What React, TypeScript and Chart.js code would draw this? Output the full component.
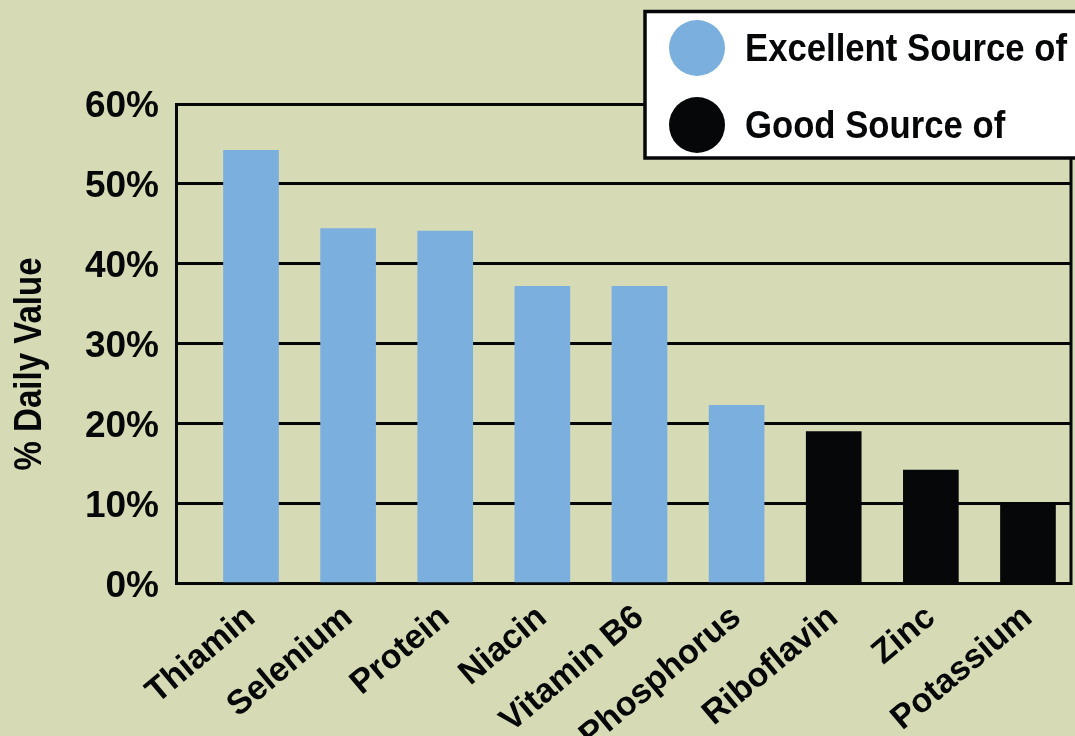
import React, { useEffect, useRef } from "react";
import { Chart, registerables } from "chart.js";

Chart.register(...registerables);

const categories = ["Thiamin", "Selenium", "Protein", "Niacin", "Vitamin B6", "Phosphorus", "Riboflavin", "Zinc", "Potassium"];
const excellentValues = [54.2, 44.4, 44.1, 37.2, 37.2, 22.3, null, null, null];
const goodValues = [null, null, null, null, null, null, 19.0, 14.2, 10.0];
const seriesNames = ["Excellent Source of", "Good Source of"];
const yTicks = [0, 10, 20, 30, 40, 50, 60];
const yTitle = "% Daily Value";

const BG = "#d6dbb6";
const BLUE = "#7aafde";
const BLACK = "#060709";
const FAMILY = "'Liberation Sans', Arial, sans-serif";

function drawSqueezed(ctx: any, text: string, x: number, y: number, font: string, targetWidth: number, align: "left" | "center") {
  ctx.save();
  ctx.font = font;
  const w = ctx.measureText(text).width;
  const s = Math.min(1, targetWidth / w);
  ctx.translate(x, y);
  ctx.scale(s, 1);
  ctx.textAlign = align;
  ctx.textBaseline = "middle";
  ctx.fillText(text, 0, 0);
  ctx.restore();
}

export default function App() {
  const ref = useRef<HTMLCanvasElement>(null);
  useEffect(() => {
    if (!ref.current) return;
    const extras = {
      id: "extras",
      beforeDraw(chart: any) {
        const { ctx, width, height } = chart;
        ctx.save();
        ctx.fillStyle = BG;
        ctx.fillRect(0, 0, width, height);
        ctx.restore();
      },
      afterDatasetsDraw(chart: any) {
        const { ctx, chartArea } = chart;
        ctx.save();
        ctx.strokeStyle = BLACK;
        ctx.lineWidth = 3;
        ctx.beginPath();
        ctx.moveTo(chartArea.right, chartArea.top);
        ctx.lineTo(chartArea.right, chartArea.bottom + 1.5);
        ctx.stroke();
        ctx.restore();
      },
      afterDraw(chart: any) {
        const { ctx } = chart;
        // y axis title
        ctx.save();
        ctx.fillStyle = BLACK;
        ctx.translate(31, 364);
        ctx.rotate(-Math.PI / 2);
        drawSqueezed(ctx, yTitle, 0, 0, `bold 38px ${FAMILY}`, 213, "center");
        ctx.restore();

        // legend
        ctx.save();
        ctx.fillStyle = "#ffffff";
        ctx.strokeStyle = BLACK;
        ctx.lineWidth = 3.5;
        ctx.fillRect(645, 11.5, 500, 146.5);
        ctx.strokeRect(645, 11.5, 500, 146.5);
        const ys = [48, 125];
        chart.data.datasets.forEach((ds: any, i: number) => {
          ctx.beginPath();
          ctx.fillStyle = ds.backgroundColor;
          ctx.arc(697, ys[i], 28, 0, Math.PI * 2);
          ctx.fill();
          ctx.fillStyle = BLACK;
          const font = `bold 39px ${FAMILY}`;
          ctx.font = font;
          const full = ctx.measureText(seriesNames[0]).width;
          const s = 322 / full;
          ctx.save();
          ctx.translate(745, ys[i] + 2);
          ctx.scale(s, 1);
          ctx.textAlign = "left";
          ctx.textBaseline = "middle";
          ctx.fillText(ds.label, 0, 0);
          ctx.restore();
        });
        ctx.restore();
      },
    };

    const chart = new Chart(ref.current, {
      type: "bar",
      data: {
        datasets: [
          {
            label: seriesNames[0],
            data: categories.map((c, i) => ({ x: i, y: excellentValues[i] })) as any,
            backgroundColor: BLUE,
            borderWidth: 0,
          },
          {
            label: seriesNames[1],
            data: categories.map((c, i) => ({ x: i, y: goodValues[i] })) as any,
            backgroundColor: BLACK,
            borderWidth: 0,
          },
        ],
      },
      options: {
        animation: false,
        responsive: false,
        maintainAspectRatio: false,
        layout: { padding: { top: 104, right: 4, left: 0, bottom: 0 } },
        datasets: { bar: { grouped: false, barThickness: 55, skipNull: true } as any },
        plugins: { legend: { display: false }, tooltip: { enabled: false }, title: { display: false } },
        scales: {
          x: {
            type: "linear",
            offset: false,
            min: -0.772,
            max: 8.443,
            grid: { display: false, offset: false },
            border: { display: true, color: BLACK, width: 3 },
            afterBuildTicks: (scale: any) => {
              scale.ticks = categories.map((_, i) => ({ value: i }));
            },
            afterFit: (scale: any) => {
              scale.height = 736 - 583.5;
            },
            ticks: {
              autoSkip: false,
              minRotation: 40,
              maxRotation: 40,
              padding: 6,
              color: BLACK,
              font: { family: FAMILY, size: 34, weight: "bold" },
              callback: (v: any) => categories[Math.round(Number(v))] ?? "",
            },
          },
          y: {
            min: 0,
            max: 60,
            afterBuildTicks: (scale: any) => {
              scale.ticks = yTicks.map((v) => ({ value: v }));
            },
            afterFit: (scale: any) => {
              scale.width = 176;
            },
            grid: { color: BLACK, lineWidth: 3, drawTicks: false },
            border: { display: true, color: BLACK, width: 3 },
            ticks: {
              padding: 17,
              labelOffset: 3,
              color: BLACK,
              font: { family: FAMILY, size: 37, weight: "bold" },
              callback: (v: any) => `${v}%`,
            },
          },
        },
      },
      plugins: [extras],
    } as any);
    return () => chart.destroy();
  }, []);

  return (
    <div style={{ position: "fixed", left: 0, top: 0, width: 1075, height: 736, background: BG }}>
      <canvas ref={ref} width={1075} height={736} style={{ display: "block", width: 1075, height: 736 }} />
    </div>
  );
}
